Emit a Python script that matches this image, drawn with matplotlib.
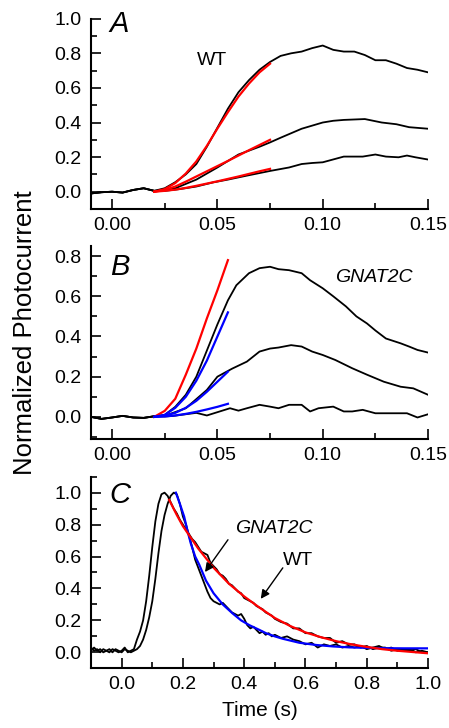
import matplotlib
matplotlib.use("Agg")
import matplotlib.pyplot as plt
from matplotlib.ticker import MultipleLocator, FormatStrFormatter

plt.rcParams['font.family'] = ['Liberation Sans', 'DejaVu Sans']

# ---------------- Panel A (WT) ----------------
a_base_x = [-0.010, -0.005, 0.000, 0.005, 0.010, 0.015, 0.020]
a_base_y = [-0.010, -0.003, 0.000, -0.005, 0.010, 0.020, 0.005]

a_top_x = [0.025, 0.030, 0.035, 0.040, 0.045, 0.050, 0.055, 0.060, 0.065, 0.070, 0.075,
           0.080, 0.085, 0.090, 0.095, 0.100, 0.105, 0.110, 0.115, 0.120, 0.125, 0.130,
           0.135, 0.140, 0.145, 0.150]
a_top_y = [0.020, 0.055, 0.100, 0.160, 0.260, 0.370, 0.480, 0.575, 0.645, 0.705, 0.750,
           0.785, 0.800, 0.810, 0.830, 0.845, 0.820, 0.810, 0.810, 0.790, 0.760, 0.760,
           0.740, 0.715, 0.705, 0.690]
a_mid_x = [0.025, 0.030, 0.040, 0.050, 0.060, 0.070, 0.075, 0.080, 0.090, 0.100, 0.105,
           0.110, 0.120, 0.128, 0.135, 0.141, 0.150]
a_mid_y = [0.008, 0.020, 0.070, 0.140, 0.215, 0.260, 0.285, 0.312, 0.364, 0.400, 0.410,
           0.415, 0.420, 0.400, 0.390, 0.373, 0.364]
a_low_x = [0.025, 0.032, 0.040, 0.048, 0.055, 0.064, 0.075, 0.084, 0.090, 0.095, 0.100,
           0.110, 0.119, 0.125, 0.130, 0.136, 0.140, 0.144, 0.150]
a_low_y = [0.005, 0.015, 0.030, 0.054, 0.070, 0.093, 0.120, 0.140, 0.160, 0.166, 0.170,
           0.203, 0.203, 0.215, 0.203, 0.199, 0.209, 0.199, 0.186]

a_fit_x = [0.020, 0.025, 0.030, 0.035, 0.040, 0.045, 0.050, 0.055, 0.060, 0.065, 0.070, 0.075]
a_fit_top = [0.0, 0.015, 0.050, 0.105, 0.175, 0.265, 0.365, 0.460, 0.550, 0.625, 0.690, 0.740]
a_fit_mid = [0.0, 0.010, 0.030, 0.058, 0.088, 0.118, 0.148, 0.178, 0.209, 0.240, 0.270, 0.300]
a_fit_low = [0.0, 0.005, 0.012, 0.022, 0.034, 0.047, 0.060, 0.074, 0.088, 0.103, 0.118, 0.132]

# ---------------- Panel B (GNAT2C) ----------------
b_base_x = [-0.010, -0.005, 0.000, 0.005, 0.010, 0.015, 0.020]
b_base_y = [0.000, -0.010, -0.003, 0.005, -0.003, -0.005, 0.003]

b_top_x = [0.025, 0.030, 0.035, 0.040, 0.045, 0.050, 0.055, 0.059, 0.065, 0.070, 0.075,
           0.079, 0.084, 0.090, 0.094, 0.100, 0.105, 0.111, 0.116, 0.121, 0.125, 0.130,
           0.137, 0.141, 0.145, 0.150]
b_top_y = [0.010, 0.050, 0.110, 0.200, 0.330, 0.460, 0.580, 0.655, 0.715, 0.740, 0.747,
           0.735, 0.730, 0.715, 0.680, 0.640, 0.600, 0.550, 0.500, 0.465, 0.430, 0.390,
           0.366, 0.350, 0.333, 0.320]
b_mid_x = [0.025, 0.035, 0.045, 0.050, 0.057, 0.064, 0.070, 0.075, 0.079, 0.085, 0.090,
           0.095, 0.100, 0.106, 0.114, 0.121, 0.129, 0.137, 0.143, 0.150]
b_mid_y = [0.005, 0.043, 0.134, 0.200, 0.240, 0.275, 0.325, 0.340, 0.345, 0.357, 0.350,
           0.325, 0.308, 0.283, 0.242, 0.210, 0.175, 0.150, 0.142, 0.110]
b_low_x = [0.025, 0.029, 0.040, 0.045, 0.056, 0.060, 0.064, 0.070, 0.075, 0.079, 0.084,
           0.090, 0.094, 0.098, 0.105, 0.110, 0.114, 0.119, 0.125, 0.130, 0.140, 0.145, 0.150]
b_low_y = [0.002, 0.005, 0.020, 0.007, 0.043, 0.031, 0.043, 0.060, 0.051, 0.043, 0.060,
           0.060, 0.027, 0.043, 0.051, 0.027, 0.027, 0.035, 0.018, 0.018, 0.018, -0.003, 0.013]

b_fit_x = [0.020, 0.025, 0.030, 0.035, 0.040, 0.045, 0.050, 0.055]
b_fit_red = [0.0, 0.030, 0.090, 0.210, 0.340, 0.490, 0.630, 0.780]
b_fit_top = [0.0, 0.010, 0.045, 0.100, 0.180, 0.280, 0.400, 0.520]
b_fit_mid = [0.0, 0.006, 0.020, 0.045, 0.080, 0.125, 0.175, 0.225]
b_fit_low = [0.0, 0.002, 0.007, 0.015, 0.025, 0.037, 0.050, 0.065]

# ---------------- Panel C (normalized responses) ----------------
c_wt_x = [-0.10, -0.09, -0.08, -0.07, -0.06, -0.05, -0.04, -0.03, -0.02, -0.01, 0.00, 0.01,
          0.02, 0.03, 0.04, 0.05, 0.06, 0.07, 0.08, 0.09, 0.10, 0.11, 0.12, 0.13, 0.14, 0.15,
          0.16, 0.17, 0.18, 0.19, 0.20, 0.21, 0.22, 0.23, 0.24, 0.25, 0.26, 0.27, 0.28, 0.29,
          0.30, 0.31, 0.32, 0.33, 0.34, 0.35, 0.36, 0.37, 0.38, 0.39, 0.40, 0.41, 0.42, 0.43,
          0.44, 0.45, 0.46, 0.47, 0.48, 0.49, 0.50, 0.52, 0.54, 0.56, 0.58, 0.60, 0.62, 0.64,
          0.66, 0.68, 0.70, 0.72, 0.74, 0.76, 0.78, 0.80, 0.82, 0.84, 0.86, 0.88, 0.90, 0.92,
          0.94, 0.96, 0.98, 1.00]
c_wt_y = [0.03, 0.01, 0.02, 0.00, 0.02, 0.01, 0.00, 0.02, 0.01, 0.00, 0.01, 0.03,
          0.00, 0.01, 0.02, 0.08, 0.13, 0.20, 0.32, 0.48, 0.66, 0.82, 0.93, 0.99, 1.00, 0.98,
          0.94, 0.90, 0.87, 0.83, 0.80, 0.77, 0.74, 0.71, 0.69, 0.66, 0.63, 0.62, 0.61, 0.56,
          0.54, 0.52, 0.49, 0.48, 0.46, 0.43, 0.42, 0.40, 0.38, 0.37, 0.34, 0.33, 0.32, 0.31,
          0.29, 0.28, 0.27, 0.25, 0.24, 0.23, 0.21, 0.19, 0.18, 0.15, 0.15, 0.12, 0.12, 0.10,
          0.09, 0.09, 0.06, 0.07, 0.05, 0.05, 0.03, 0.04, 0.02, 0.03, 0.03, 0.01, 0.02, 0.01,
          0.02, 0.00, 0.01, 0.00]
c_gn_x = [-0.10, -0.09, -0.08, -0.07, -0.06, -0.05, -0.04, -0.03, -0.02, -0.01, 0.00, 0.01,
          0.02, 0.03, 0.04, 0.05, 0.06, 0.07, 0.08, 0.09, 0.10, 0.11, 0.12, 0.13, 0.14, 0.15,
          0.16, 0.17, 0.18, 0.19, 0.20, 0.21, 0.22, 0.23, 0.24, 0.25, 0.26, 0.27, 0.28, 0.29,
          0.30, 0.31, 0.32, 0.33, 0.34, 0.35, 0.36, 0.37, 0.38, 0.39, 0.40, 0.41, 0.42, 0.43,
          0.44, 0.45, 0.46, 0.47, 0.48, 0.49, 0.50, 0.52, 0.54, 0.56, 0.58, 0.60, 0.62, 0.64,
          0.66, 0.68, 0.70, 0.72, 0.74, 0.76, 0.78, 0.80, 0.82, 0.84, 0.86, 0.88, 0.90, 0.92,
          0.94, 0.96, 0.98, 1.00]
c_gn_y = [0.01, 0.03, 0.01, 0.02, 0.00, 0.01, 0.02, 0.00, 0.02, 0.01, 0.00, 0.02,
          0.01, 0.00, 0.01, 0.02, 0.04, 0.08, 0.14, 0.22, 0.32, 0.46, 0.62, 0.76, 0.86, 0.93,
          0.98, 1.00, 0.99, 0.93, 0.85, 0.80, 0.73, 0.66, 0.58, 0.53, 0.48, 0.43, 0.38, 0.34,
          0.32, 0.31, 0.30, 0.31, 0.29, 0.27, 0.25, 0.24, 0.23, 0.24, 0.21, 0.17, 0.15, 0.16,
          0.14, 0.12, 0.13, 0.11, 0.12, 0.10, 0.11, 0.09, 0.10, 0.08, 0.07, 0.05, 0.06, 0.03,
          0.05, 0.04, 0.05, 0.03, 0.04, 0.03, 0.04, 0.02, 0.03, 0.04, 0.02, 0.03, 0.01, 0.02,
          0.01, 0.02, 0.00, 0.00]

c_red_x = [0.155, 0.18, 0.20, 0.225, 0.25, 0.275, 0.30, 0.35, 0.40, 0.45, 0.50, 0.55,
           0.60, 0.65, 0.70, 0.75, 0.80, 0.85, 0.90, 0.95, 1.00]
c_red_y = [0.955, 0.86, 0.79, 0.72, 0.65, 0.59, 0.53, 0.43, 0.35, 0.28, 0.215, 0.165,
           0.125, 0.095, 0.07, 0.05, 0.034, 0.02, 0.01, 0.002, -0.006]
c_blue_x = [0.177, 0.19, 0.204, 0.215, 0.226, 0.24, 0.253, 0.275, 0.30, 0.33, 0.362, 0.39,
            0.417, 0.45, 0.471, 0.50, 0.526, 0.58, 0.635, 0.69, 0.744, 0.80, 0.853, 0.92, 1.00]
c_blue_y = [1.00, 0.93, 0.85, 0.76, 0.68, 0.60, 0.55, 0.45, 0.37, 0.30, 0.244, 0.20,
            0.17, 0.14, 0.12, 0.10, 0.085, 0.06, 0.046, 0.037, 0.031, 0.028, 0.026, 0.025, 0.025]

# ---------------- Drawing ----------------
fig = plt.figure(figsize=(4.49, 7.28), dpi=100)
L, W = 0.2027, 0.7506
axA = fig.add_axes([L, 0.7129, W, 0.2614])
axB = fig.add_axes([L, 0.3970, W, 0.2650])
axC = fig.add_axes([L, 0.0820, W, 0.2632])

BLK = dict(color='black', lw=1.3, solid_joinstyle='round')
RED = dict(color='#ff0000', lw=1.6, solid_joinstyle='round')
BLU = dict(color='#0000ff', lw=1.6, solid_joinstyle='round')

for x, y in [(a_base_x + a_top_x, a_base_y + a_top_y),
             (a_base_x + a_mid_x, a_base_y + a_mid_y),
             (a_base_x + a_low_x, a_base_y + a_low_y)]:
    axA.plot(x, y, **BLK)
for y in (a_fit_top, a_fit_mid, a_fit_low):
    axA.plot(a_fit_x, y, **RED)

for x, y in [(b_base_x + b_top_x, b_base_y + b_top_y),
             (b_base_x + b_mid_x, b_base_y + b_mid_y),
             (b_base_x + b_low_x, b_base_y + b_low_y)]:
    axB.plot(x, y, **BLK)
axB.plot(b_fit_x, b_fit_red, **RED)
for y in (b_fit_top, b_fit_mid, b_fit_low):
    axB.plot(b_fit_x, y, **BLU)

axC.plot(c_wt_x, c_wt_y, **BLK)
axC.plot(c_gn_x, c_gn_y, **BLK)
axC.plot(c_blue_x, c_blue_y, **BLU)
axC.plot(c_red_x, c_red_y, **RED)

FS = 14
for ax in (axA, axB, axC):
    for s in ('top', 'right'):
        ax.spines[s].set_visible(False)
    for s in ('left', 'bottom'):
        ax.spines[s].set_linewidth(1.5)
    ax.tick_params(which='both', direction='in', width=1.2, labelsize=FS)
    ax.tick_params(which='major', length=7)
    ax.tick_params(which='minor', length=4)
    ax.tick_params(axis='x', pad=5.5)
    ax.tick_params(axis='y', pad=7)

for ax in (axA, axB):
    ax.set_xlim(-0.01, 0.15)
    ax.xaxis.set_major_locator(MultipleLocator(0.05))
    ax.xaxis.set_minor_locator(MultipleLocator(0.025))
    ax.xaxis.set_major_formatter(FormatStrFormatter('%.2f'))
    ax.yaxis.set_major_locator(MultipleLocator(0.2))
    ax.yaxis.set_minor_locator(MultipleLocator(0.1))
    ax.yaxis.set_major_formatter(FormatStrFormatter('%.1f'))
axA.set_ylim(-0.1, 1.0)
axB.set_ylim(-0.11, 0.85)

axC.set_xlim(-0.1, 1.0)
axC.set_ylim(-0.1, 1.1)
axC.xaxis.set_major_locator(MultipleLocator(0.2))
axC.xaxis.set_minor_locator(MultipleLocator(0.1))
axC.xaxis.set_major_formatter(FormatStrFormatter('%.1f'))
axC.yaxis.set_major_locator(MultipleLocator(0.2))
axC.yaxis.set_minor_locator(MultipleLocator(0.1))
axC.yaxis.set_major_formatter(FormatStrFormatter('%.1f'))
axC.set_xlabel('Time (s)', fontsize=15, labelpad=6)

# panel letters
axA.text(0.056, 0.930, 'A', transform=axA.transAxes, fontsize=21, style='italic')
axB.text(0.056, 0.850, 'B', transform=axB.transAxes, fontsize=21, style='italic')
axC.text(0.056, 0.863, 'C', transform=axC.transAxes, fontsize=21, style='italic')

axA.text(0.0404, 0.731, 'WT', fontsize=14)
axB.text(0.1059, 0.671, 'GNAT2C', fontsize=14, style='italic')
axC.text(0.3695, 0.747, 'GNAT2C', fontsize=14, style='italic')
axC.text(0.526, 0.547, 'WT', fontsize=14)

arrow = dict(arrowstyle='-|>', color='black', lw=1.0, mutation_scale=13, shrinkA=0, shrinkB=0)
axC.annotate('', xy=(0.272, 0.503), xytext=(0.347, 0.705), arrowprops=arrow)
axC.annotate('', xy=(0.454, 0.335), xytext=(0.526, 0.529), arrowprops=arrow)

fig.text(0.0557, 0.5426, 'Normalized Photocurrent', rotation=90, fontsize=18.5,
         ha='center', va='center')

fig.savefig('out.png', dpi=100)
